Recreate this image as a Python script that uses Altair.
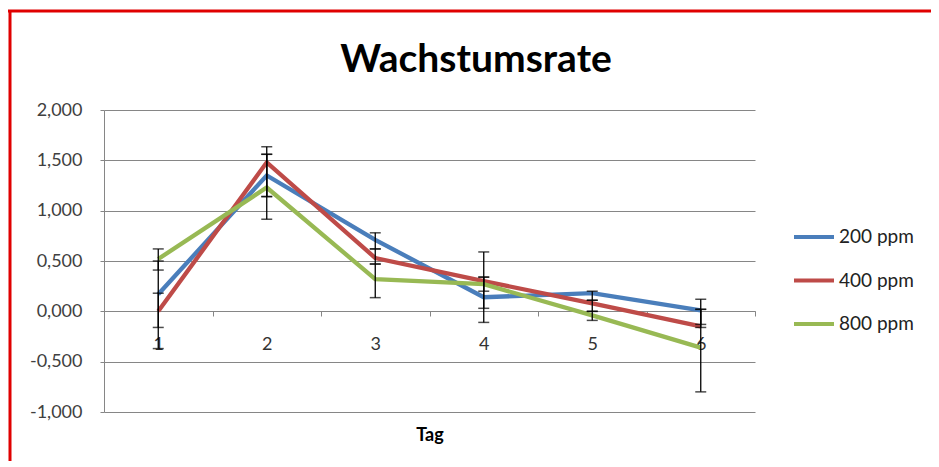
import altair as alt
import pandas as pd

tags = [1, 2, 3, 4, 5, 6]
series = ["200 ppm", "400 ppm", "800 ppm"]
colors = ["#4A7EBB", "#BE4B48", "#98B954"]

v200 = [0.17, 1.35, 0.71, 0.14, 0.18, 0.01]
v400 = [0.00, 1.48, 0.53, 0.30, 0.08, -0.15]
v800 = [0.52, 1.23, 0.32, 0.27, -0.04, -0.36]

lo200 = [-0.16, 0.915, 0.62, -0.11, 0.11, -0.13]
hi200 = [0.50, 1.56, 0.78, 0.34, 0.20, 0.12]
lo400 = [-0.37, 1.14, 0.47, 0.03, 0.00, -0.16]
hi400 = [0.18, 1.635, 0.62, 0.59, 0.11, 0.02]
lo800 = [0.41, 1.14, 0.136, 0.20, -0.09, -0.80]
hi800 = [0.62, 1.56, 0.47, 0.34, 0.00, 0.02]

y_ticks = [-1.0, -0.5, 0.0, 0.5, 1.0, 1.5, 2.0]
title_text = ["Wachstumsrate"]

rows = []
for s, vals, lo, hi in [
    ("200 ppm", v200, lo200, hi200),
    ("400 ppm", v400, lo400, hi400),
    ("800 ppm", v800, lo800, hi800),
]:
    for t, v, l, h in zip(tags, vals, lo, hi):
        rows.append({"Tag": t, "series": s, "value": v, "lo": l, "hi": h})
df = pd.DataFrame(rows)

FONT = "Lato"
GRAY = "#868686"

xscale = alt.Scale(type="band", paddingInner=0, paddingOuter=0)
x_axis = alt.Axis(
    title="Tag", offset=-101, tickBand="extent", tickSize=5, tickColor=GRAY,
    domainColor=GRAY, labelAngle=0, labelPadding=19, labelFontSize=18,
    labelColor="#333333", labelFont=FONT, titleFont=FONT, titleFontSize=18,
    titleFontWeight="bold", titleY=129, titleBaseline="alphabetic",
    titleColor="#000000", grid=False,
)
yscale = alt.Scale(domain=[-1, 2], nice=False, zero=False)
y_axis = alt.Axis(
    title=None, values=y_ticks, tickSize=4, tickColor=GRAY, domainColor=GRAY,
    labelPadding=18, labelFontSize=18, labelColor="#404040", labelFont=FONT,
    labelExpr="replace(replace(format(datum.value, '.3f'), '.', ','), '\u2212', '-')",
    grid=True, gridColor=GRAY, gridWidth=1,
)

color = alt.Color(
    "series:N",
    scale=alt.Scale(domain=series, range=colors),
    legend=alt.Legend(
        title=None, orient="none", legendX=688, legendY=105, symbolType="stroke",
        symbolSize=1600, symbolStrokeWidth=4, labelFontSize=19, labelFont=FONT,
        labelColor="#222222", rowPadding=11.5, labelOffset=3, padding=0,
    ),
)

base = alt.Chart(df)

lines = base.mark_line(strokeWidth=4.3).encode(
    x=alt.X("Tag:O", scale=xscale, axis=x_axis, bandPosition=0.5),
    y=alt.Y("value:Q", scale=yscale, axis=y_axis),
    color=color,
    order=alt.Order("Tag:O"),
)

err = base.mark_rule(color="black", strokeWidth=1.3).encode(
    x=alt.X("Tag:O", scale=xscale, bandPosition=0.5),
    y=alt.Y("lo:Q", scale=yscale),
    y2="hi:Q",
)
cap_lo = base.mark_tick(color="black", size=11, thickness=1.5, orient="horizontal").encode(
    x=alt.X("Tag:O", scale=xscale, bandPosition=0.5),
    y=alt.Y("lo:Q", scale=yscale),
)
cap_hi = base.mark_tick(color="black", size=11, thickness=1.5, orient="horizontal").encode(
    x=alt.X("Tag:O", scale=xscale, bandPosition=0.5),
    y=alt.Y("hi:Q", scale=yscale),
)

title = alt.Chart(alt.Data(values=[{"t": t} for t in title_text])).mark_text(
    font=FONT, fontSize=39, fontWeight="bold", color="#000000",
    align="center", baseline="alphabetic",
).encode(text="t:N", x=alt.value(372), y=alt.value(-38))

frame_src = alt.Data(values=[{"k": 1}])
red_top = alt.Chart(frame_src).mark_rule(color="#E00000", strokeWidth=3).encode(
    x=alt.value(-96), x2=alt.value(830), y=alt.value(-99)
)
red_left = alt.Chart(frame_src).mark_rule(color="#E00000", strokeWidth=3).encode(
    x=alt.value(-94), y=alt.value(-100), y2=alt.value(360)
)

chart = alt.layer(lines, err, cap_lo, cap_hi, title, red_top, red_left).properties(
    width=651,
    height=302,
    autosize=alt.AutoSizeParams(type="none"),
    padding={"left": 96, "top": 102, "right": 176, "bottom": 49},
    background="white",
).configure_view(stroke=None)

chart.save("out.html", embed_options={"renderer": "svg", "actions": False})
